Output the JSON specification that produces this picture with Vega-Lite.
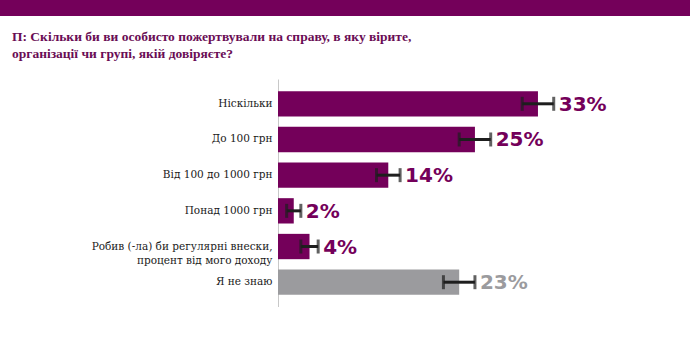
{
  "$schema": "https://vega.github.io/schema/vega-lite/v6.json",
  "padding": 0,
  "spacing": 13,
  "background": "white",
  "config": {"view": {"stroke": null}},
  "datasets": {
    "rows": [
      {"answer": "Ніскільки", "pct": 33, "err": 2.0, "group": "p"},
      {"answer": "До 100 грн", "pct": 25, "err": 2.0, "group": "p"},
      {"answer": "Від 100 до 1000 грн", "pct": 14, "err": 1.5, "group": "p"},
      {"answer": "Понад 1000 грн", "pct": 2, "err": 0.9, "group": "p"},
      {"answer": "Робив (-ла) би регулярні внески,|процент від мого доходу", "pct": 4, "err": 1.1, "group": "p"},
      {"answer": "Я не знаю", "pct": 23, "err": 2.0, "group": "g"}
    ]
  },
  "vconcat": [
    {
      "width": 412,
      "height": 16,
      "data": {"values": [{"x0": 0, "x1": 1, "y0": 0, "y1": 1}]},
      "mark": {"type": "rect", "color": "#74005a", "clip": false},
      "encoding": {
        "x": {"field": "x0", "type": "quantitative", "scale": {"domain": [0, 1], "range": [-278, 412], "nice": false, "zero": false}, "axis": null},
        "x2": {"field": "x1"},
        "y": {"field": "y0", "type": "quantitative", "scale": {"domain": [0, 1], "nice": false}, "axis": null},
        "y2": {"field": "y1"}
      }
    },
    {
      "width": 412,
      "height": 228,
      "title": {
        "text": ["П: Скільки би ви особисто пожертвували на справу, в яку вірите,", "організації чи групі, якій довіряєте?"],
        "anchor": "start",
        "dx": 12,
        "font": "Liberation Serif, Times New Roman, serif",
        "fontSize": 13.5,
        "fontWeight": "bold",
        "color": "#6a0d55",
        "lineHeight": 17,
        "offset": 19
      },
      "data": {"name": "rows"},
      "transform": [
        {"calculate": "datum.pct - datum.err", "as": "lo"},
        {"calculate": "datum.pct + datum.err", "as": "hi"},
        {"calculate": "datum.pct + '%'", "as": "label"}
      ],
      "encoding": {
        "y": {
          "field": "answer",
          "type": "nominal",
          "sort": null,
          "scale": {"paddingInner": 0.29, "paddingOuter": 0.34},
          "axis": {
            "title": null,
            "ticks": false,
            "labelExpr": "split(datum.value, '|')",
            "labelFont": "DejaVu Serif",
            "labelFontSize": 10.5,
            "labelColor": "#1a1a1a",
            "labelLineHeight": 14,
            "labelPadding": 6,
            "labelLimit": 300,
            "domainColor": "#c8c8c8",
            "domainWidth": 1,
            "minExtent": 278,
            "maxExtent": 278
          }
        }
      },
      "layer": [
        {
          "mark": {"type": "bar"},
          "encoding": {
            "x": {"field": "pct", "type": "quantitative", "scale": {"domain": [0, 52.3], "nice": false}, "axis": null},
            "color": {"field": "group", "type": "nominal", "scale": {"domain": ["p", "g"], "range": ["#74005a", "#9b9b9e"]}, "legend": null}
          }
        },
        {
          "mark": {"type": "rule", "color": "#1e1e1e", "strokeWidth": 3},
          "encoding": {
            "x": {"field": "lo", "type": "quantitative"},
            "x2": {"field": "hi"}
          }
        },
        {
          "mark": {"type": "tick", "color": "#1e1e1e", "thickness": 3, "size": 14, "orient": "vertical"},
          "encoding": {"x": {"field": "lo", "type": "quantitative"}}
        },
        {
          "mark": {"type": "tick", "color": "#1e1e1e", "thickness": 3, "size": 14, "orient": "vertical"},
          "encoding": {"x": {"field": "hi", "type": "quantitative"}}
        },
        {
          "mark": {"type": "text", "align": "left", "baseline": "middle", "dx": 5, "dy": 1, "font": "DejaVu Sans", "fontWeight": "bold", "fontSize": 20},
          "encoding": {
            "x": {"field": "hi", "type": "quantitative"},
            "text": {"field": "label", "type": "nominal"},
            "color": {"field": "group", "type": "nominal", "legend": null}
          }
        }
      ]
    }
  ]
}
